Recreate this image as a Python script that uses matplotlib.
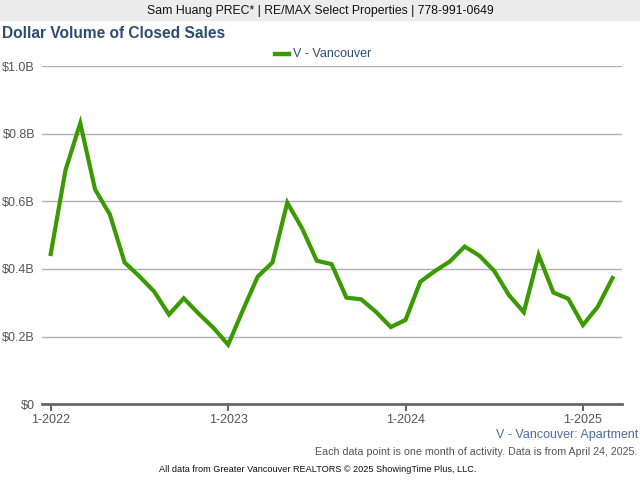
import numpy as np
import matplotlib.pyplot as plt
from matplotlib.ticker import FixedLocator

plt.rcParams['font.family'] = ['Liberation Sans', 'DejaVu Sans']

# monthly dollar volume, Jan 2022 .. Mar 2025 (billions)
months = [f"{m}-{y}" for y in (2022, 2023, 2024, 2025) for m in range(1, 13)][:39]
volume = [0.444, 0.692, 0.831, 0.635, 0.561, 0.419, 0.378, 0.333, 0.265, 0.313, 0.268, 0.226,
          0.176, 0.278, 0.377, 0.419, 0.596, 0.520, 0.424, 0.414, 0.315, 0.310, 0.273, 0.228,
          0.249, 0.362, 0.394, 0.422, 0.466, 0.439, 0.394, 0.322, 0.272, 0.441, 0.330, 0.312,
          0.234, 0.288, 0.373]
y_ticks = [0, 0.2, 0.4, 0.6, 0.8, 1.0]
y_labels = ["$0", "$0.2B", "$0.4B", "$0.6B", "$0.8B", "$1.0B"]
x_labels = ["1-2022", "1-2023", "1-2024", "1-2025"]

fig = plt.figure(figsize=(6.4, 4.8), dpi=100)
ax = fig.add_axes([0.0656, 0.158, 0.906, 0.7045])

x = np.arange(len(volume))
ax.plot(x, volume, color='#3a9a00', lw=3.0, solid_joinstyle='miter')

ax.set_xlim(-0.59, 38.63)
ax.set_ylim(0, 1.0)
ax.yaxis.set_major_locator(FixedLocator(y_ticks))
ax.set_yticklabels(y_labels)
xt = [months.index(l) for l in x_labels]
ax.set_xticks(xt)
ax.set_xticklabels(x_labels)
ax.grid(axis='y', color='#b0b0b0', lw=1)
ax.set_axisbelow(True)
for s in ['top', 'right', 'left']:
    ax.spines[s].set_visible(False)
ax.spines['bottom'].set_color('#666666')
ax.spines['bottom'].set_linewidth(2)
ax.tick_params(axis='y', length=0, pad=5, labelsize=9, labelcolor='#555555')
ax.tick_params(axis='x', length=5, width=1.5, color='#666666', pad=2,
               labelsize=9, labelcolor='#555555')

# header band
fig.patches.append(plt.Rectangle((0, 1 - 20 / 480), 1, 20 / 480, transform=fig.transFigure,
                                 color='#ececec', zorder=0))
fig.text(0.5, 1 - 11 / 480, "Sam Huang PREC* | RE/MAX Select Properties | 778-991-0649",
         ha='center', va='center', fontsize=8.8, color='#111111')
fig.text(0.003, 1 - 34 / 480, "Dollar Volume of Closed Sales", ha='left', va='center',
         fontsize=11.2, fontweight='bold', color='#2b4d72')

# legend
fig.lines.append(plt.Line2D([275 / 640, 289 / 640], [1 - 54 / 480] * 2, transform=fig.transFigure,
                            color='#3a9a00', lw=3.2))
fig.text(293 / 640, 1 - 54 / 480, "V - Vancouver", ha='left', va='center',
         fontsize=9, color='#2b4d72')

fig.text(638 / 640, 1 - 435 / 480, "V - Vancouver: Apartment", ha='right', va='center',
         fontsize=9, color='#4a6f9c')
fig.text(637 / 640, 1 - 452 / 480,
         "Each data point is one month of activity. Data is from April 24, 2025.",
         ha='right', va='center', fontsize=7.7, color='#555555')
fig.text(318 / 640, 1 - 470 / 480,
         "All data from Greater Vancouver REALTORS \u00a9 2025 ShowingTime Plus, LLC.",
         ha='center', va='center', fontsize=6.6, color='#111111')

fig.savefig('out.png', dpi=100)
